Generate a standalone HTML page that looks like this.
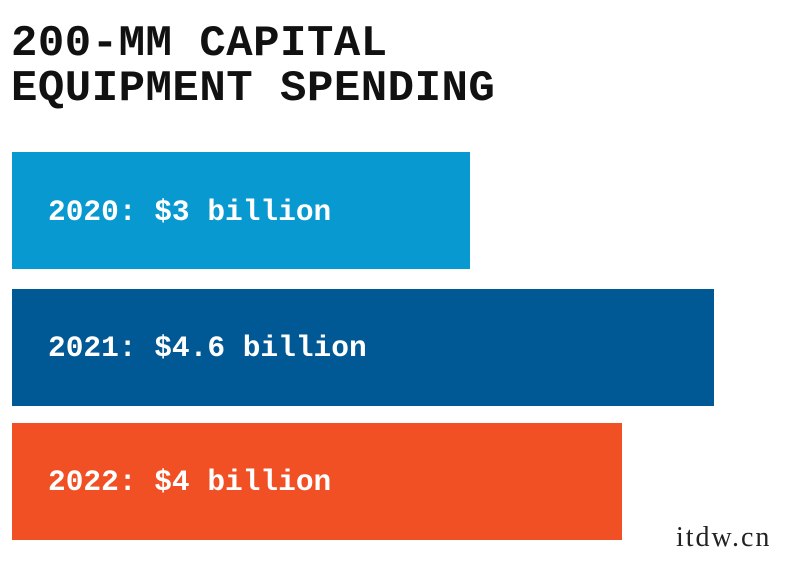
<!DOCTYPE html>
<html><head><meta charset="utf-8"><style>
html,body{margin:0;padding:0;background:#fff;width:800px;height:561px;overflow:hidden;position:relative}
.t{position:absolute;left:11px;font-family:"Liberation Mono",monospace;font-weight:bold;font-size:44px;line-height:44px;color:#111;white-space:nowrap;letter-spacing:0.5px}
.b{position:absolute;left:12px;height:117px}
.l{position:absolute;left:48px;font-family:"Liberation Mono",monospace;font-weight:bold;font-size:29.5px;color:#fff;white-space:nowrap;line-height:30px}
.w{position:absolute;left:676px;top:522px;font-family:"Liberation Serif",serif;font-size:28px;letter-spacing:2px;color:#222}
</style></head><body>
<div class="t" style="top:22px">200-MM CAPITAL</div>
<div class="t" style="top:67px">EQUIPMENT SPENDING</div>
<div class="b" style="top:152px;width:458px;background:#0899d0"></div>
<div class="b" style="top:289px;width:702px;background:#005995"></div>
<div class="b" style="top:423px;width:610px;background:#f05024"></div>
<div class="l" style="top:197px">2020: $3 billion</div>
<div class="l" style="top:333px">2021: $4.6 billion</div>
<div class="l" style="top:467px">2022: $4 billion</div>
<div class="w">itdw.cn</div>
</body></html>
